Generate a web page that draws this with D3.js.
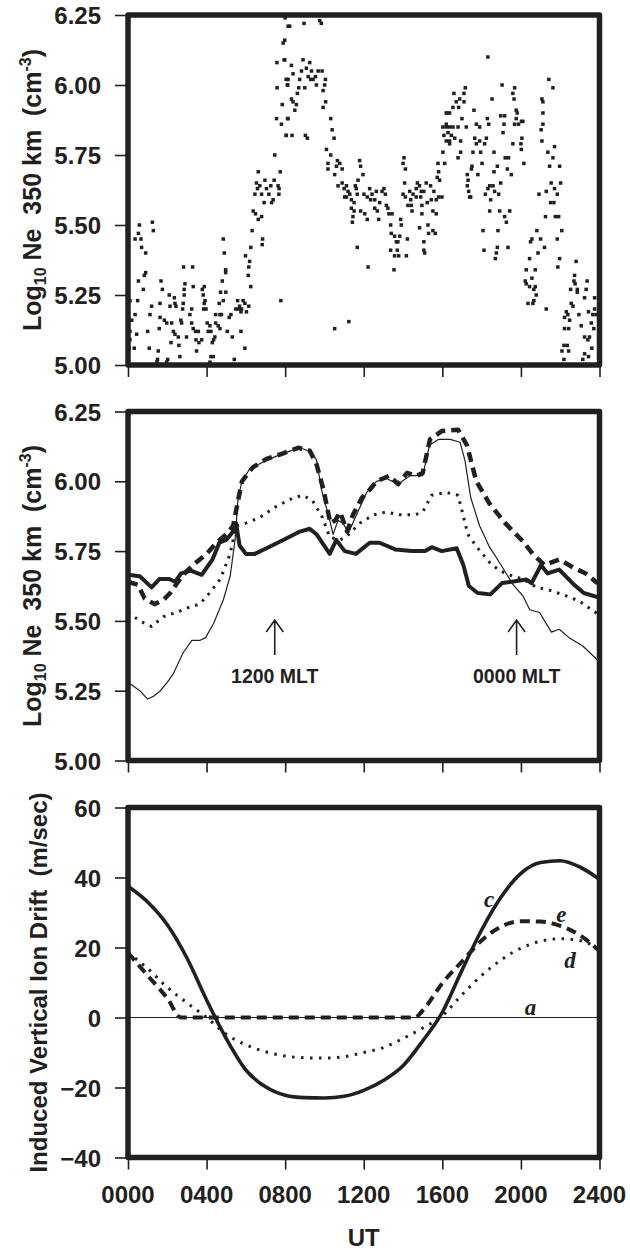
<!DOCTYPE html>
<html><head><meta charset="utf-8">
<script src="https://cdn.jsdelivr.net/npm/d3@7"></script>
<style>
body{margin:0;background:#fff}
svg{display:block}
text{font-family:"Liberation Sans",Arial,Helvetica,sans-serif;font-weight:bold;fill:#231f20}
</style>
</head><body>
<svg id="chart" width="630" height="1253"></svg>
<script>
// ---------- axes ----------
const utTicks = [0, 4, 8, 12, 16, 20, 24];
const utTickLabels = ["0000", "0400", "0800", "1200", "1600", "2000", "2400"];
const neTicks = [5.00, 5.25, 5.50, 5.75, 6.00, 6.25];
const driftTicks = [-40, -20, 0, 20, 40, 60];

// ---------- top panel: measured Log10 Ne (UT hour, value) ----------
const scatterPoints = [
[0.58,5.50],[1.24,5.51],[0.53,5.47],[1.29,5.48],[0.66,5.45],[0.36,5.45],[0.69,5.42],[0.90,5.40],[0.90,5.33],[0.83,5.32],[0.53,5.30],[0.78,5.27],[0.49,5.23],[0.10,5.23],[0.36,5.18],[0.19,5.16],[0.10,5.12],[0.44,5.11],[0.10,5.09],[0.32,5.06],[0.05,5.06],[1.20,5.21],[1.12,5.18],[1.00,5.12],[1.08,5.06],[1.54,5.05],[1.50,5.02],[1.68,5.30],[1.75,5.27],[1.63,5.22],[1.63,5.17],[1.59,5.13],[2.02,5.02],[2.10,5.25],[2.14,5.21],[1.85,5.16],[1.97,5.15],[2.22,5.15],[2.36,5.24],[2.39,5.22],[2.44,5.21],[2.31,5.12],[2.39,5.11],[2.56,5.10],[2.19,5.08],[2.59,5.07],[2.64,5.03],[2.83,5.35],[2.90,5.29],[2.86,5.27],[2.86,5.25],[2.81,5.22],[2.78,5.20],[2.69,5.16],[2.73,5.15],[2.98,5.10],[3.15,5.18],[3.24,5.20],[3.29,5.35],[3.32,5.28],[3.24,5.15],[3.32,5.13],[3.44,5.12],[3.49,5.05],[3.46,5.09],[3.58,5.12],[3.61,5.08],[3.75,5.09],[3.78,5.27],[3.88,5.28],[3.83,5.25],[3.92,5.23],[3.88,5.22],[3.85,5.20],[3.97,5.20],[4.03,5.15],[4.08,5.12],[4.17,5.14],[4.22,5.12],[4.29,5.08],[4.36,5.09],[4.42,5.10],[4.22,5.03],[4.34,5.03],[4.46,5.18],[4.46,5.15],[4.59,5.14],[4.68,5.18],[4.76,5.18],[4.64,5.22],[4.71,5.26],[4.80,5.30],[4.85,5.45],[4.90,5.40],[4.97,5.34],[4.97,5.33],[4.85,5.23],[4.98,5.26],[4.68,5.13],[5.05,5.12],[5.31,5.10],[5.15,5.17],[5.24,5.18],[5.41,5.02],[1.47,5.01],[1.97,5.01],[4.17,5.01],[5.35,5.00],
[5.58,5.23],[5.49,5.20],[5.61,5.20],[5.68,5.21],[5.78,5.20],[5.75,5.19],[5.86,5.23],[5.95,5.22],[6.03,5.19],[6.15,5.21],[5.75,5.12],[5.95,5.06],[6.25,5.28],[6.12,5.32],[6.15,5.35],[5.98,5.39],[6.19,5.37],[6.25,5.42],[6.32,5.48],[6.85,5.45],[6.83,5.43],[6.37,5.55],[6.49,5.54],[6.63,5.52],[6.80,5.53],[6.63,5.69],[6.54,5.65],[6.46,5.61],[6.59,5.63],[6.71,5.64],[6.80,5.61],[6.93,5.58],[6.97,5.66],[7.05,5.63],[7.17,5.61],[7.31,5.58],[7.39,5.59],[7.27,5.64],[7.44,5.66],[7.64,5.64],[7.68,5.61],[7.69,5.63],[7.75,5.69],[7.47,5.75],[7.78,5.23],[8.05,5.82],[7.81,5.86],[8.12,5.88],[7.56,5.88],[7.85,5.93],[7.59,5.99],[8.12,6.00],[8.05,6.02],[7.58,6.08],[7.95,6.09],[7.90,6.15],[8.15,6.21],[8.00,6.24],
[8.23,6.21],[8.96,6.22],[9.76,6.23],[9.84,6.22],[7.98,6.16],[7.98,6.09],[8.32,6.07],[8.91,6.09],[9.25,6.08],[8.40,6.04],[8.83,6.05],[9.08,6.06],[9.34,6.05],[9.68,6.05],[9.88,6.05],[8.15,6.02],[8.12,6.00],[8.74,6.02],[9.17,6.03],[9.30,6.02],[9.42,6.02],[9.54,6.03],[9.59,6.00],[10.05,6.02],[10.01,6.00],[8.69,5.99],[9.00,5.99],[8.62,5.97],[9.93,5.98],[8.32,5.95],[8.40,5.94],[8.57,5.93],[8.49,5.91],[10.06,5.94],[9.93,5.92],[8.15,5.88],[10.32,5.88],[8.06,5.82],[8.35,5.82],[9.03,5.82],[9.13,5.81],[10.39,5.84],[10.49,5.81],[10.10,5.77],[10.32,5.75],[10.18,5.72],[10.18,5.70],[10.66,5.73],[10.78,5.72],[10.61,5.71],[10.90,5.70],[10.52,5.68],[11.79,5.73],[11.84,5.71],[11.96,5.68],[11.71,5.66],[10.69,5.64],[10.90,5.65],[11.00,5.63],[11.12,5.64],[11.57,5.64],[11.62,5.63],[11.20,5.62],[11.03,5.60],[11.12,5.60],[11.29,5.61],[11.37,5.59],[11.51,5.58],[11.67,5.61],[12.01,5.61],[12.18,5.60],[12.30,5.63],[12.42,5.61],[12.56,5.59],[12.35,5.59],[12.64,5.62],[12.81,5.58],[12.93,5.62],[13.03,5.63],[13.10,5.61],[11.37,5.56],[11.51,5.55],[11.84,5.55],[12.05,5.54],[12.18,5.52],[11.45,5.53],[11.42,5.51],[12.56,5.56],[12.69,5.55],[12.76,5.52],[13.15,5.57],[13.23,5.56],[13.28,5.54],[13.44,5.54],[11.67,5.42],[12.22,5.35],[13.37,5.50],[13.40,5.47],[13.57,5.46],[13.66,5.44],[13.83,5.46],[13.91,5.50],[13.88,5.52],[13.74,5.44],[13.71,5.41],[13.57,5.39],[13.78,5.39],[13.37,5.41],[14.17,5.39],[14.22,5.45],[13.54,5.34],[14.05,5.74],[14.00,5.72],[14.12,5.70],[14.08,5.65],[14.00,5.61],[14.12,5.60],[14.34,5.62],[14.51,5.61],[14.39,5.59],[14.25,5.57],[14.42,5.57],[14.46,5.55],[14.67,5.63],[14.73,5.65],[14.84,5.64],[14.93,5.62],[15.06,5.62],[15.18,5.65],[15.40,5.64],[14.90,5.60],[14.96,5.57],[14.67,5.60],[15.23,5.58],[15.44,5.59],[15.57,5.62],[15.69,5.59],[15.81,5.60],[15.98,5.60],[15.52,5.55],[15.69,5.54],[14.84,5.49],[14.96,5.54],[15.27,5.50],[15.30,5.47],[15.52,5.48],[15.64,5.47],[15.06,5.44],[15.06,5.41],[15.10,5.40],[15.78,5.72],[15.81,5.69],[15.74,5.67],[15.86,5.66],[16.03,5.76],[16.20,5.80],[16.08,5.82],[16.03,5.85],[16.20,5.86],[16.25,5.90],[10.52,5.13],[11.24,5.155],
[18.32,6.10],[19.04,6.00],[19.68,5.99],[19.59,5.97],[19.65,5.95],[21.42,6.02],[21.63,5.99],[17.17,5.99],[16.59,5.97],[16.88,5.95],[17.10,5.97],[16.71,5.94],[17.10,5.94],[16.54,5.92],[16.83,5.92],[18.53,5.95],[17.61,5.91],[19.76,5.91],[19.81,5.90],[21.07,5.95],[21.12,5.94],[16.20,5.90],[16.37,5.90],[17.00,5.88],[18.29,5.88],[18.97,5.89],[19.17,5.89],[19.76,5.88],[20.10,5.87],[19.88,5.86],[21.12,5.90],[16.20,5.85],[16.37,5.85],[16.54,5.85],[16.80,5.85],[17.22,5.85],[17.73,5.86],[17.90,5.85],[18.36,5.86],[19.14,5.86],[19.68,5.86],[20.03,5.87],[21.12,5.86],[21.03,5.84],[16.29,5.83],[16.46,5.82],[16.63,5.81],[17.65,5.81],[18.24,5.81],[19.09,5.83],[20.05,5.81],[21.07,5.80],[16.37,5.80],[16.93,5.80],[17.73,5.79],[17.90,5.80],[18.15,5.79],[19.59,5.79],[20.00,5.79],[16.37,5.79],[20.02,5.77],[21.37,5.76],[21.71,5.78],[16.93,5.76],[17.56,5.76],[17.95,5.76],[18.63,5.76],[19.20,5.74],[19.37,5.74],[20.15,5.72],[21.63,5.74],[16.12,5.72],[16.80,5.74],[17.51,5.71],[18.02,5.72],[18.80,5.71],[19.31,5.70],[21.46,5.71],[21.97,5.71],[17.48,5.70],[18.63,5.69],[17.27,5.68],[19.51,5.68],[17.81,5.68],[18.97,5.65],[17.31,5.66],[17.27,5.64],[18.41,5.64],[18.58,5.64],[21.54,5.65],[22.02,5.65],[17.34,5.62],[18.32,5.63],[18.66,5.62],[18.87,5.61],[18.19,5.61],[17.39,5.60],[18.46,5.59],[20.92,5.61],[21.29,5.62],[21.71,5.63],[21.85,5.61],[17.44,5.60],[21.51,5.58],[21.68,5.58],[18.41,5.55],[18.92,5.55],[19.43,5.55],[19.17,5.53],[19.26,5.51],[21.25,5.53],[21.75,5.53],[21.92,5.53],[18.07,5.48],[18.83,5.48],[20.81,5.48],[22.08,5.48],[20.56,5.45],[21.00,5.45],[21.85,5.45],[20.49,5.44],[18.12,5.41],[18.80,5.42],[19.34,5.42],[21.20,5.42],[18.75,5.40],[18.70,5.38],[20.87,5.40],[20.44,5.38],[21.97,5.38],[21.88,5.35],[22.81,5.37],[20.27,5.34],[20.73,5.34],[20.56,5.31],[20.22,5.30],[20.27,5.29],[20.44,5.28],[20.73,5.28],[20.66,5.27],[22.73,5.32],[22.70,5.30],[23.37,5.30],[22.76,5.29],[23.32,5.27],[22.53,5.27],[22.87,5.27],[22.87,5.26],[20.78,5.25],[23.24,5.24],[20.66,5.23],[20.61,5.22],[20.36,5.22],[23.75,5.24],[22.56,5.22],[22.65,5.21],[21.29,5.20],[23.75,5.20],[22.31,5.19],[22.39,5.18],[22.95,5.18],[23.44,5.19],[23.66,5.18],[23.83,5.18],[22.22,5.17],[22.48,5.16],[23.58,5.15],[23.07,5.14],[23.71,5.13],[22.22,5.13],[22.43,5.13],[23.24,5.10],[23.49,5.10],[23.41,5.09],[22.19,5.07],[22.36,5.07],[23.61,5.06],[22.09,5.05],[22.43,5.05],[23.24,5.04],[23.44,5.03],[22.19,5.02],[23.15,5.02]
];

// ---------- middle panel: modelled Log10 Ne ----------
const thickHours = [0,0.6,1.2,1.6,2.1,2.4,2.7,3.2,3.75,4.3,4.65,5.0,5.35,5.5,5.68,6.0,6.45,7.05,7.9,8.75,9.25,9.6,10.27,10.6,11.03,11.6,12.3,12.8,13.6,14.44,15.12,15.46,15.97,16.73,17.07,17.35,17.8,18.45,19.05,19.7,20.29,20.54,21.02,21.36,21.95,22.7,23.2,23.9];
const thickNe    = [5.665,5.66,5.62,5.65,5.65,5.64,5.67,5.68,5.665,5.72,5.78,5.79,5.82,5.85,5.77,5.74,5.74,5.76,5.79,5.82,5.83,5.81,5.74,5.79,5.75,5.74,5.78,5.78,5.756,5.75,5.75,5.764,5.75,5.76,5.70,5.625,5.60,5.595,5.636,5.642,5.648,5.635,5.70,5.67,5.684,5.63,5.60,5.585];

const dashedHours = [0,0.5,0.85,1.35,1.8,2.15,2.75,3.3,4.0,4.5,5.0,5.35,5.6,5.8,6.35,7.05,7.9,8.65,9.25,9.6,9.95,10.3,10.55,10.8,11.15,11.45,11.9,12.3,12.66,13.3,13.75,14.2,14.7,15.0,15.37,15.97,16.8,17.25,17.73,18.4,19.2,20.1,20.6,21.2,21.95,22.7,23.3,23.9];
const dashedNe    = [5.64,5.63,5.58,5.56,5.575,5.60,5.66,5.70,5.74,5.78,5.81,5.84,5.93,6.00,6.05,6.08,6.10,6.12,6.11,6.06,5.97,5.85,5.86,5.89,5.82,5.88,5.94,5.97,6.00,6.02,5.99,6.03,6.02,6.03,6.15,6.18,6.185,6.13,6.00,5.92,5.85,5.785,5.74,5.70,5.72,5.69,5.67,5.635];

const dottedHours = [0,0.6,1.2,1.8,2.45,3.15,3.65,4.15,4.7,5.2,5.5,6.0,6.7,7.55,8.4,8.9,9.4,9.9,10.27,10.78,11.1,11.8,12.5,13.15,13.8,14.6,15.0,15.45,16.2,16.8,17.05,17.3,17.75,18.4,18.9,19.6,20.1,20.8,21.45,22.3,23.0,23.9];
const dottedNe    = [5.53,5.50,5.48,5.515,5.53,5.55,5.56,5.60,5.65,5.74,5.84,5.85,5.87,5.91,5.94,5.95,5.93,5.87,5.80,5.79,5.80,5.85,5.88,5.89,5.88,5.88,5.89,5.95,5.96,5.95,5.88,5.81,5.765,5.71,5.68,5.66,5.65,5.62,5.61,5.59,5.57,5.525];

const thinHours = [0,0.6,1.0,1.3,1.65,2.0,2.3,2.8,3.25,3.65,3.95,4.35,4.85,5.2,5.45,5.6,5.8,6.2,7.05,7.9,8.75,9.35,9.6,9.85,10.2,10.44,10.69,10.95,11.22,11.63,12.15,12.65,13.15,13.75,14.35,14.85,15.0,15.35,15.8,16.4,16.9,17.15,17.45,17.9,18.4,18.9,19.6,20.1,20.45,20.95,21.55,21.95,22.45,23.15,23.9];
const thinNe    = [5.28,5.25,5.22,5.23,5.25,5.28,5.31,5.385,5.43,5.43,5.44,5.49,5.575,5.66,5.79,5.94,6.00,6.045,6.075,6.10,6.12,6.105,6.075,5.97,5.88,5.81,5.86,5.85,5.815,5.88,5.96,6.00,6.01,5.99,6.02,6.02,6.02,6.13,6.15,6.15,6.14,6.075,5.94,5.84,5.765,5.71,5.63,5.59,5.54,5.53,5.46,5.47,5.44,5.41,5.36];

const mltMarkers = [{hour: 7.47, label: "1200 MLT"}, {hour: 19.78, label: "0000 MLT"}];

// ---------- bottom panel: induced vertical ion drift ----------
const driftHours = [0,1,2,3,4,5,6,7,8,9,10,11,12,13,14,15,16,17,18,19,20,21,22,23,24];
const driftC = [37.5,33,26.5,17,5,-6,-15,-19.8,-22.2,-22.9,-23,-22.5,-20.8,-18,-13.8,-6.7,1.5,13.5,25,34.5,41.2,44.3,44.8,43,39.5];
const driftD = [18.5,14,8.6,4.2,0,-4.8,-7.8,-9.8,-11,-11.5,-11.6,-11.2,-10,-8.6,-6,-3,0.5,6.5,12,16.5,19.8,21.8,22.5,22,19.5];
const driftEHours = [0,1,2,2.7,14.6,15,16,17,18,19,20,21,22,23,24];
const driftE = [18.5,12,5.5,0,0,2,9.8,16,22,26,27.5,27.4,26.2,23.5,19];
const driftA = [0,0];
const driftAHours = [0,24];
const curveLabels = [{t:"c", hour:18.38, v:31.6}, {t:"e", hour:22.06, v:27.3}, {t:"d", hour:22.5, v:14.1}, {t:"a", hour:20.49, v:0.7}];

// ---------- drawing ----------
const INK = "#231f20";
const svg = d3.select("#chart");
const x = d3.scaleLinear().domain([0, 24]).range([128, 599.5]);
const yTop = d3.scaleLinear().domain([5, 6.25]).range([365, 15]);
const yMid = d3.scaleLinear().domain([5, 6.25]).range([760.5, 411.5]);
const yBot = d3.scaleLinear().domain([-40, 60]).range([1157.5, 807.5]);

function panel(id, y, ticks, fmt) {
  const [yb, yt] = y.range();
  const g = svg.append("g");
  svg.append("clipPath").attr("id", id).append("rect")
    .attr("x", x(0)).attr("y", yt).attr("width", x(24) - x(0)).attr("height", yb - yt);
  const data = g.append("g").attr("clip-path", `url(#${id})`);
  const ya = g.append("g").attr("transform", `translate(${x(0)},0)`)
    .call(d3.axisLeft(y).tickValues(ticks).tickSize(13).tickPadding(14).tickFormat(fmt));
  ya.select(".domain").remove();
  ya.selectAll("line").attr("stroke", INK).attr("stroke-width", 1.6);
  ya.selectAll("text").attr("font-size", 24).attr("fill", INK).attr("font-weight", "bold")
    .attr("font-family", "Liberation Sans, Arial, sans-serif").attr("dy", "0.36em");
  const xa = g.append("g").attr("transform", `translate(0,${yb})`)
    .call(d3.axisBottom(x).tickValues(utTicks).tickSize(12).tickFormat(""));
  xa.select(".domain").remove();
  xa.selectAll("line").attr("stroke", INK).attr("stroke-width", 1.6);
  return {g, data, yb, yt};
}

function frame(p) {
  p.g.append("rect").attr("x", x(0)).attr("y", p.yt)
    .attr("width", x(24) - x(0)).attr("height", p.yb - p.yt)
    .attr("fill", "none").attr("stroke", INK).attr("stroke-width", 5.5)
    .attr("stroke-linejoin", "round");
}

// top panel
const pTop = panel("clipTop", yTop, neTicks, d3.format(".2f"));
pTop.data.selectAll("rect").data(scatterPoints).join("rect")
  .attr("x", d => x(d[0]) - 1.75).attr("y", d => yTop(d[1]) - 1.75)
  .attr("width", 3.5).attr("height", 3.5).attr("fill", INK);
frame(pTop);

// middle panel
const pMid = panel("clipMid", yMid, neTicks, d3.format(".2f"));
const lineMid = d3.line().x(d => x(d[0])).y(d => yMid(d[1]));
const midSeries = [
  {h: thinHours, v: thinNe, w: 1.2, dash: null},
  {h: dottedHours, v: dottedNe, w: 3, dash: "2.5,6"},
  {h: thickHours, v: thickNe, w: 4, dash: null},
  {h: dashedHours, v: dashedNe, w: 4.5, dash: "10,6"}
];
midSeries.forEach(s => {
  pMid.data.append("path").datum(s.h.map((h, i) => [h, s.v[i]]))
    .attr("d", lineMid).attr("fill", "none").attr("stroke", INK)
    .attr("stroke-width", s.w).attr("stroke-dasharray", s.dash)
    .attr("stroke-linejoin", "round");
});
mltMarkers.forEach(m => {
  const ax = x(m.hour), y0 = yMid(5.378), y1 = yMid(5.503);
  pMid.g.append("path")
    .attr("d", `M${ax},${y0}L${ax},${y1}M${ax - 8.5},${y1 + 12}L${ax},${y1}L${ax + 8.5},${y1 + 12}`)
    .attr("fill", "none").attr("stroke", INK).attr("stroke-width", 1.6);
  pMid.g.append("text").attr("x", ax).attr("y", yMid(5.278)).attr("text-anchor", "middle")
    .attr("font-size", 19.5).text(m.label);
});
frame(pMid);

// bottom panel
const pBot = panel("clipBot", yBot, driftTicks, d3.format("d"));
const lineBot = d3.line().x(d => x(d[0])).y(d => yBot(d[1])).curve(d3.curveMonotoneX);
const botSeries = [
  {h: driftAHours, v: driftA, w: 1.2, dash: null},
  {h: driftHours, v: driftD, w: 3, dash: "2.5,6.5"},
  {h: driftEHours, v: driftE, w: 4, dash: "10,6"},
  {h: driftHours, v: driftC, w: 3.6, dash: null}
];
botSeries.forEach(s => {
  pBot.data.append("path").datum(s.h.map((h, i) => [h, s.v[i]]))
    .attr("d", lineBot).attr("fill", "none").attr("stroke", INK)
    .attr("stroke-width", s.w).attr("stroke-dasharray", s.dash);
});
pBot.g.selectAll("text.lab").data(curveLabels).join("text").attr("class", "lab")
  .attr("x", d => x(d.hour)).attr("y", d => yBot(d.v)).attr("text-anchor", "middle")
  .style("font-family", "'Liberation Serif','Times New Roman',serif").style("font-style", "italic")
  .attr("font-size", 23).text(d => d.t);
frame(pBot);

// x tick labels (bottom)
svg.append("g").selectAll("text").data(utTicks).join("text")
  .attr("x", d => x(d)).attr("y", 1203).attr("text-anchor", "middle")
  .attr("font-size", 24).text((d, i) => utTickLabels[i]);
svg.append("text").attr("x", x(12)).attr("y", 1246).attr("text-anchor", "middle")
  .attr("font-size", 24).text("UT");

// y titles
function neTitle(cy) {
  const t = svg.append("text").attr("transform", `translate(41,${cy}) rotate(-90)`)
    .attr("text-anchor", "middle").attr("font-size", 25).style("white-space", "pre");
  t.append("tspan").text("Log");
  t.append("tspan").attr("font-size", 16).attr("dy", 5).text("10");
  t.append("tspan").attr("dy", -5).text(" Ne  350 km  (cm");
  t.append("tspan").attr("font-size", 16).attr("dy", -10).text("-3");
  t.append("tspan").attr("dy", 10).text(")");
}
neTitle((yTop.range()[0] + yTop.range()[1]) / 2);
neTitle((yMid.range()[0] + yMid.range()[1]) / 2);
svg.append("text").attr("transform", `translate(47,${(yBot.range()[0] + yBot.range()[1]) / 2}) rotate(-90)`)
  .attr("text-anchor", "middle").attr("font-size", 24).style("white-space", "pre")
  .text("Induced Vertical Ion Drift  (m/sec)");
</script>
</body></html>
